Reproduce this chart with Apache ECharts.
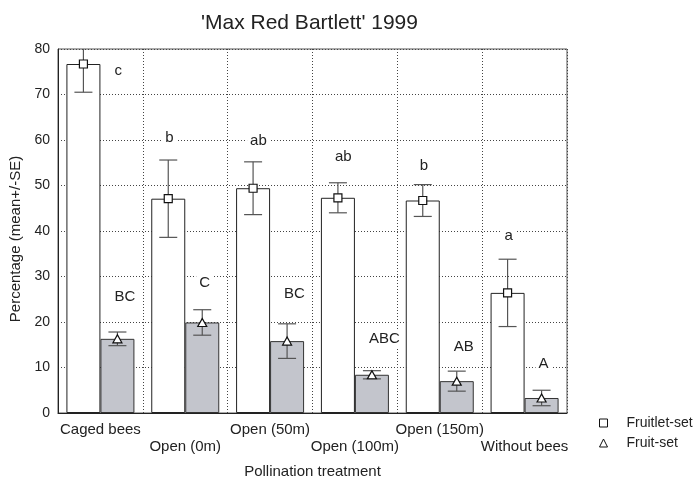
<!DOCTYPE html>
<html>
<head>
<meta charset="utf-8">
<title>Max Red Bartlett 1999</title>
<script src="https://cdn.jsdelivr.net/npm/echarts@6/dist/echarts.min.js"></script>
<style>
  html, body { margin: 0; padding: 0; background: #fff; }
  #chart { width: 695px; height: 484px; }
</style>
</head>
<body>
<div id="chart"></div>
<script>
// values (percent, mean and SE)
var categories = ['Caged bees', 'Open (0m)', 'Open (50m)', 'Open (100m)', 'Open (150m)', 'Without bees'];
var fruitletMean = [76.7, 47.1, 49.4, 47.3, 46.7, 26.4];
var fruitletSE = [6.2, 8.5, 5.8, 3.3, 3.5, 7.4];
var fruitMean = [16.3, 19.9, 15.8, 8.4, 7.0, 3.3];
var fruitSE = [1.5, 2.8, 3.8, 0.9, 2.2, 1.7];
// significance letters and the height (in %) where they are written
var fruitletLetters = ['c', 'b', 'ab', 'ab', 'b', 'a'];
var fruitletLetterY = [75.1, 60.5, 59.8, 56.2, 54.3, 39.0];
var fruitLetters = ['BC', 'C', 'BC', 'ABC', 'AB', 'A'];
var fruitLetterY = [25.5, 28.7, 26.2, 16.3, 14.5, 10.7];

var Y_MAX = 80;
var BAR_W = 34;
var FONT = 'Liberation Sans, Arial, sans-serif';

var chart = echarts.init(document.getElementById('chart'));

// error bars + letters drawn next to each bar (side -1 = left bar, 1 = right bar)
function errorSeries(name, means, ses, letters, letterY, side) {
  return {
    type: 'custom',
    name: name,
    z: 4,
    silent: true,
    data: means.map(function (m, i) { return [i, m, ses[i], letterY[i]]; }),
    encode: { x: 0, y: 1 },
    renderItem: function (params, api) {
      var i = api.value(0);
      var m = api.value(1);
      var se = api.value(2);
      var hi = m + se;
      var lo = m - se;
      var clipped = hi > Y_MAX;
      var x = api.coord([i, m])[0] + side * BAR_W / 2;
      var yTop = api.coord([i, Math.min(hi, Y_MAX)])[1];
      var yBot = api.coord([i, lo])[1];
      var lineStyle = { stroke: '#555', lineWidth: 1.2 };
      var cap = 9;
      var children = [
        { type: 'line', shape: { x1: x, y1: yTop, x2: x, y2: yBot }, style: lineStyle },
        { type: 'line', shape: { x1: x - cap, y1: yBot, x2: x + cap, y2: yBot }, style: lineStyle }
      ];
      if (!clipped) {
        children.push({ type: 'line', shape: { x1: x - cap, y1: yTop, x2: x + cap, y2: yTop }, style: lineStyle });
      }
      // when the bar reaches the top, its letter moves beside it
      var lx = x - 6 + (clipped ? BAR_W : 0);
      var ly = api.coord([i, api.value(3)])[1];
      children.push({
        type: 'text',
        x: lx,
        y: ly,
        style: {
          text: letters[params.dataIndex],
          fill: '#222',
          font: '15px ' + FONT,
          align: 'left',
          verticalAlign: 'middle',
          backgroundColor: '#fff',
          padding: [2, 3]
        }
      });
      return { type: 'group', children: children };
    }
  };
}

var option = {
  backgroundColor: '#ffffff',
  animation: false,
  textStyle: { fontFamily: FONT, color: '#222' },
  title: {
    text: "'Max Red Bartlett' 1999",
    left: 196,
    top: 8,
    textStyle: { fontSize: 21, fontWeight: 'normal', color: '#222', fontFamily: FONT }
  },
  legend: {
    orient: 'vertical',
    left: 599,
    top: 416,
    padding: 0,
    itemWidth: 8,
    itemHeight: 8,
    itemGap: 6,
    data: ['Fruitlet-set', 'Fruit-set'],
    itemStyle: { borderWidth: 1 },
    textStyle: { fontSize: 14, color: '#222', fontFamily: FONT, padding: [0, 0, 0, 14] }
  },
  grid: {
    left: 58,
    right: 128,
    top: 49,
    bottom: 65,
    show: true,
    borderColor: '#555',
    borderWidth: 1
  },
  xAxis: {
    type: 'category',
    data: categories,
    name: 'Pollination treatment',
    nameLocation: 'middle',
    nameGap: 51,
    nameTextStyle: { fontSize: 15, color: '#222', fontFamily: FONT },
    axisLine: { lineStyle: { color: '#222', width: 1 } },
    axisTick: { show: false },
    axisLabel: {
      interval: 0,
      margin: 8,
      fontSize: 15,
      lineHeight: 17,
      color: '#222',
      fontFamily: FONT,
      formatter: function (v, idx) { return idx % 2 ? '\n' + v : v; }
    },
    splitLine: { show: true, interval: 0, lineStyle: { color: '#444', type: [1, 2], width: 1 } }
  },
  yAxis: {
    type: 'value',
    min: 0,
    max: Y_MAX,
    interval: 10,
    name: 'Percentage (mean+/-SE)',
    nameLocation: 'middle',
    nameGap: 34,
    nameTextStyle: { fontSize: 15, color: '#222', fontFamily: FONT, padding: [0, 16, 0, 0] },
    axisLine: { show: true, lineStyle: { color: '#222', width: 1 } },
    axisTick: { show: false },
    axisLabel: { margin: 8, fontSize: 14, color: '#222', fontFamily: FONT },
    splitLine: { show: true, lineStyle: { color: '#444', type: [1, 2], width: 1 } }
  },
  series: [
    {
      name: 'fruitletBar',
      type: 'bar',
      data: fruitletMean,
      barWidth: BAR_W,
      barGap: '0%',
      itemStyle: { color: '#ffffff', borderColor: '#222', borderWidth: 1 },
      silent: true
    },
    {
      name: 'fruitBar',
      type: 'bar',
      data: fruitMean,
      barWidth: BAR_W,
      barGap: '0%',
      itemStyle: { color: '#c3c5cc', borderColor: '#333', borderWidth: 1 },
      silent: true
    },
    errorSeries('fruitletErr', fruitletMean, fruitletSE, fruitletLetters, fruitletLetterY, -1),
    errorSeries('fruitErr', fruitMean, fruitSE, fruitLetters, fruitLetterY, 1),
    {
      name: 'Fruitlet-set',
      type: 'scatter',
      data: fruitletMean,
      symbol: 'rect',
      symbolSize: 8,
      symbolOffset: [-BAR_W / 2, 0],
      z: 6,
      itemStyle: { color: '#fff', borderColor: '#111', borderWidth: 1.2, opacity: 1 }
    },
    {
      name: 'Fruit-set',
      type: 'scatter',
      data: fruitMean,
      symbol: 'triangle',
      symbolSize: [9, 8],
      symbolOffset: [BAR_W / 2, 0],
      z: 6,
      itemStyle: { color: '#fff', borderColor: '#111', borderWidth: 1.2, opacity: 1 }
    }
  ]
};

chart.setOption(option);
</script>
</body>
</html>
